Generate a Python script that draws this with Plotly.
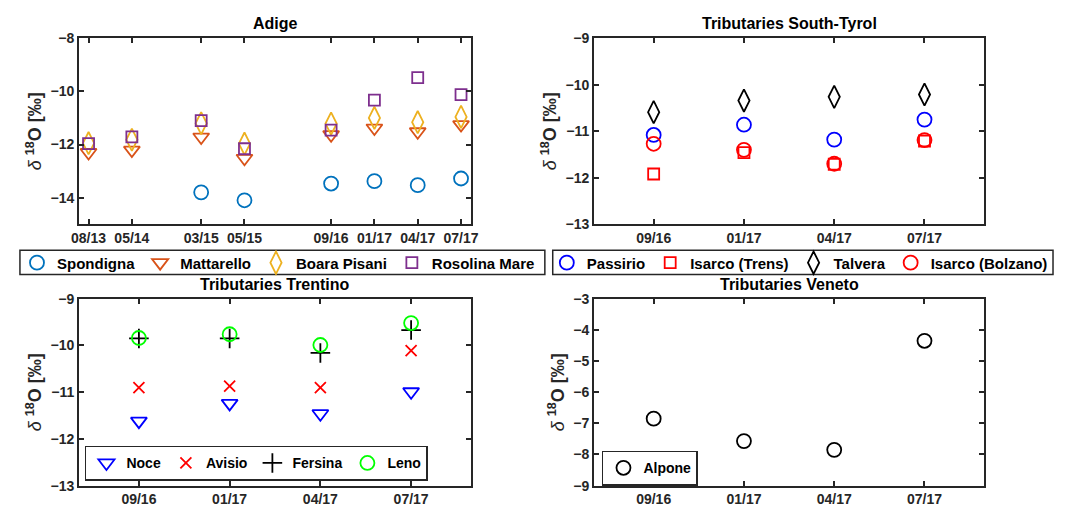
import plotly.graph_objects as go

# Adige main stem samples (uneven spacing of the sampling campaigns on the x axis)
adige_dates = ["08/13", "05/14", "03/15", "05/15", "09/16", "01/17", "04/17", "07/17"]
adige_pos = [0, 1, 2.6, 3.6, 5.6, 6.6, 7.6, 8.6]
spondigna = [None, None, -13.8, -14.1, -13.47, -13.38, -13.53, -13.28]
mattarello = [-12.3, -12.21, -11.72, -12.52, -11.63, -11.38, -11.52, -11.25]
boara_pisani = [-11.95, -11.82, -11.2, -11.97, -11.21, -11.0, -11.16, -10.96]
rosolina_mare = [-11.97, -11.71, -11.1, -12.16, -11.46, -10.33, -9.48, -10.12]

# tributaries
trib_dates = ["09/16", "01/17", "04/17", "07/17"]
passirio = [-11.08, -10.86, -11.18, -10.75]
isarco_trens = [-11.92, -11.46, -11.71, -11.21]
talvera = [-10.59, -10.34, -10.26, -10.21]
isarco_bolzano = [-11.27, -11.40, -11.70, -11.19]

noce = [-11.62, -11.24, -11.46, -10.99]
avisio = [-10.90, -10.87, -10.90, -10.11]
fersina = [-9.85, -9.85, -10.16, -9.67]
leno = [-9.84, -9.76, -9.99, -9.52]

alpone = [-6.85, -7.57, -7.85, -4.35]

FONT = "Liberation Sans, Arial, sans-serif"
AX = "#262626"
# page is 1070x521 and the body keeps its default 8px margin
PAD = 8
W, H = 1070 - 2 * PAD, 521 - 2 * PAD


def px_x(p):
    return (p - PAD) / W


def px_y(p):
    return 1 - (p - PAD) / H


fig = go.Figure()


def add(x, y, name, symbol, color, size, legend, xa, ya):
    fig.add_trace(
        go.Scatter(
            x=x,
            y=y,
            name=name,
            mode="markers",
            marker=dict(symbol=symbol, size=size, color=color, line=dict(color=color, width=1.8)),
            legend=legend,
            xaxis=xa,
            yaxis=ya,
        )
    )


add(adige_pos, spondigna, "Spondigna", "circle-open", "#0072BD", 14, "legend", "x", "y")
add(adige_pos, mattarello, "Mattarello", "triangle-down-open", "#D95319", 14, "legend", "x", "y")
add(adige_pos, boara_pisani, "Boara Pisani", "diamond-tall-open", "#EDB120", 16, "legend", "x", "y")
add(adige_pos, rosolina_mare, "Rosolina Mare", "square-open", "#7E2F8E", 11, "legend", "x", "y")

add(trib_dates, passirio, "Passirio", "circle-open", "#0000FF", 14, "legend2", "x2", "y2")
add(trib_dates, isarco_trens, "Isarco (Trens)", "square-open", "#FF0000", 11, "legend2", "x2", "y2")
add(trib_dates, talvera, "Talvera", "diamond-tall-open", "#000000", 16, "legend2", "x2", "y2")
add(trib_dates, isarco_bolzano, "Isarco (Bolzano)", "circle-open", "#FF0000", 14, "legend2", "x2", "y2")

add(trib_dates, noce, "Noce", "triangle-down-open", "#0000FF", 14, "legend3", "x3", "y3")
add(trib_dates, avisio, "Avisio", "x-thin-open", "#FF0000", 11, "legend3", "x3", "y3")
add(trib_dates, fersina, "Fersina", "cross-thin-open", "#000000", 14, "legend3", "x3", "y3")
add(trib_dates, leno, "Leno", "circle-open", "#00FF00", 14, "legend3", "x3", "y3")

add(trib_dates, alpone, "Alpone", "circle-open", "#000000", 14, "legend4", "x4", "y4")

left_dom = [px_x(72), px_x(470)]
right_dom = [px_x(595), px_x(991)]
top_dom = [px_y(223), px_y(31)]
bot_dom = [px_y(493), px_y(300)]

tickfont = dict(family=FONT, size=14, color=AX, weight="bold")
common = dict(
    showline=True, linecolor=AX, linewidth=2, mirror="allticks",
    ticks="inside", ticklen=5, tickwidth=1.5, tickcolor=AX,
    showgrid=False, zeroline=False, tickfont=tickfont,
)
ytitle = dict(
    text="<i>δ</i> <b><sup>18</sup>O [‰]</b>",
    font=dict(family=FONT, size=18, color=AX),
    standoff=4,
)

fig.update_layout(
    xaxis=dict(domain=left_dom, anchor="y", range=[-0.22, 8.83],
               tickvals=adige_pos, ticktext=adige_dates, **common),
    yaxis=dict(domain=top_dom, anchor="x", range=[-15, -8], dtick=2, title=ytitle, **common),
    xaxis2=dict(domain=right_dom, anchor="y2", type="category", range=[-0.66, 3.66], **common),
    yaxis2=dict(domain=top_dom, anchor="x2", range=[-13, -9], dtick=1, title=ytitle, **common),
    xaxis3=dict(domain=left_dom, anchor="y3", type="category", range=[-0.66, 3.66], **common),
    yaxis3=dict(domain=bot_dom, anchor="x3", range=[-13, -9], dtick=1, title=ytitle, **common),
    xaxis4=dict(domain=right_dom, anchor="y4", type="category", range=[-0.66, 3.66], **common),
    yaxis4=dict(domain=bot_dom, anchor="x4", range=[-9, -3], dtick=1, title=ytitle, **common),
)

outfont = dict(family=FONT, size=15, color="#000000", weight="bold")
infont = dict(family=FONT, size=14, color="#000000", weight="bold")
# outside legends: box drawn as a shape so it keeps the slim height of the original
flat = dict(orientation="h", borderwidth=0, bgcolor="rgba(0,0,0,0)",
            font=outfont, itemwidth=30, xanchor="left", yanchor="middle")
boxed = dict(orientation="h", bordercolor=AX, borderwidth=1.5, bgcolor="white",
             font=infont, itemwidth=30, xanchor="left", yanchor="middle")
fig.update_layout(
    legend=dict(x=px_x(9), y=px_y(263), **flat),
    legend2=dict(x=px_x(547), y=px_y(263), **flat),
    legend3=dict(x=px_x(78), y=px_y(470), **boxed),
    legend4=dict(x=px_x(603), y=px_y(475), **boxed),
)
for x0, x1 in [(12, 545), (553, 1061)]:
    fig.add_shape(
        type="rect", xref="paper", yref="paper",
        x0=px_x(x0), x1=px_x(x1), y0=px_y(275), y1=px_y(250),
        line=dict(color=AX, width=1.5), fillcolor="rgba(0,0,0,0)", layer="below",
    )

titles = [
    ("Adige", (72 + 470) / 2, 16),
    ("Tributaries South-Tyrol", (595 + 991) / 2, 16),
    ("Tributaries Trentino", (72 + 470) / 2, 285),
    ("Tributaries Veneto", (595 + 991) / 2, 285),
]
for text, cx, cy in titles:
    fig.add_annotation(
        text=text, x=px_x(cx), y=px_y(cy), xref="paper", yref="paper",
        xanchor="center", yanchor="middle", showarrow=False,
        font=dict(family=FONT, size=16, color="#000000", weight="bold"),
    )

fig.update_layout(
    width=W, height=H,
    margin=dict(l=0, r=0, t=0, b=0),
    paper_bgcolor="white", plot_bgcolor="white",
)

fig.write_html("out.html", config={"displayModeBar": False})
